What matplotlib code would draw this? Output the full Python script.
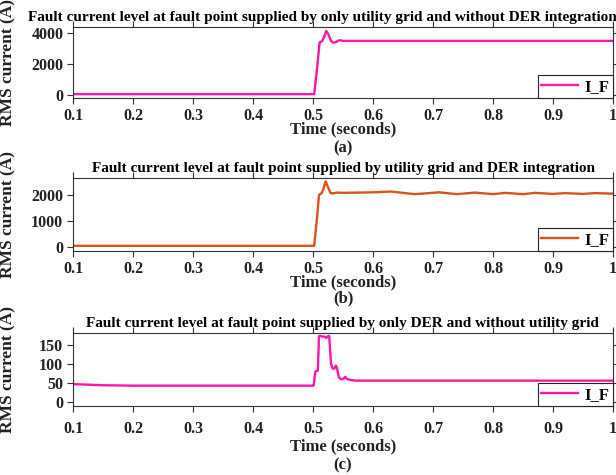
import numpy as np
import matplotlib
matplotlib.use('Agg')
import matplotlib.pyplot as plt

plt.rcParams['font.family'] = 'Liberation Serif'
plt.rcParams['font.weight'] = 'bold'

# (a) only utility grid
t_a = [0.1, 0.5, 0.502, 0.507, 0.511, 0.515, 0.518, 0.522, 0.526, 0.530,
       0.534, 0.538, 0.542, 0.546, 0.55, 1.0]
i_a = [50, 50, 50, 1800, 3400, 3480, 3700, 4150, 3900, 3500,
       3380, 3420, 3520, 3540, 3500, 3500]

# (b) utility grid + DER
t_b = [0.1, 0.5, 0.502, 0.507, 0.510, 0.514, 0.517, 0.521, 0.525, 0.529,
       0.533, 0.54, 0.55, 0.6, 0.63, 0.67, 0.71, 0.74, 0.77, 0.8,
       0.82, 0.85, 0.87, 0.9, 0.92, 0.95, 0.97, 1.0]
i_b = [50, 50, 50, 1200, 2000, 2060, 2200, 2520, 2300, 2080,
       2060, 2090, 2080, 2100, 2130, 2030, 2100, 2030, 2090, 2030,
       2080, 2030, 2080, 2040, 2070, 2040, 2070, 2050]

# (c) only DER
t_c = [0.1, 0.15, 0.2, 0.5, 0.501, 0.504, 0.508, 0.510, 0.512, 0.52,
       0.522, 0.525, 0.527, 0.530, 0.533, 0.536, 0.538, 0.540, 0.543, 0.546,
       0.550, 0.554, 0.557, 0.562, 0.57, 1.0]
i_c = [47, 44, 43, 43, 43, 80, 82, 172, 172, 170,
       167, 172, 172, 100, 87, 88, 95, 90, 65, 60,
       60, 66, 60, 58, 56, 56]

titles = ['Fault current level at fault point supplied by only utility grid and without DER integration',
          'Fault current level at fault point supplied by utility grid and DER integration',
          'Fault current level at fault point supplied by only DER and without utility grid']
letters = ['(a)', '(b)', '(c)']
xticks = [0.1, 0.2, 0.3, 0.4, 0.5, 0.6, 0.7, 0.8, 0.9, 1.0]
xticklabels = ['0.1', '0.2', '0.3', '0.4', '0.5', '0.6', '0.7', '0.8', '0.9', '1']
yticks = [[0, 2000, 4000], [0, 1000, 2000], [0, 50, 100, 150]]
ylims = [(-200, 4400), (-150, 2650), (-10, 180)]
colors = ['#ff17a6', '#d95319', '#ff17a6']
series = [(t_a, i_a), (t_b, i_b), (t_c, i_c)]

W, H = 616, 475
fig = plt.figure(figsize=(W / 100, H / 100), dpi=100)

# axes boxes in pixels: left, top, right, bottom
boxes = [(73, 27, 613, 98), (73, 178, 613, 251), (73, 333, 613, 406)]
title_x = [322, 344, 342]
tick_pad = [3, 3, 7]
xlab_pad = [-2, -2, 1]
letter_y = [148, 298, 465]
frame = '0.2'

for k in range(3):
    l, t, r, b = boxes[k]
    ax = fig.add_axes([l / W, 1 - b / H, (r - l) / W, (b - t) / H])
    x, y = series[k]
    ax.plot(x, y, color=colors[k], lw=1.7, label='I_F')
    ax.set_xlim(0.1, 1.0)
    ax.set_ylim(*ylims[k])
    ax.set_xticks(xticks)
    ax.set_xticklabels(xticklabels)
    ax.set_yticks(yticks[k])
    ax.tick_params(direction='out', length=4, width=0.8, labelsize=11.5,
                   colors=frame, labelcolor='#222222', top=True, right=True, pad=3)
    ax.tick_params(axis='x', pad=tick_pad[k])
    for s in ax.spines.values():
        s.set_color(frame)
        s.set_linewidth(0.8)
    ax.set_title(titles[k], fontsize=11, fontweight='bold', pad=4)
    ax.title.set_x((title_x[k] - l) / (r - l))
    ax.set_xlabel('Time (seconds)', fontsize=12, fontweight='bold',
                  labelpad=xlab_pad[k], color='#222222')
    ax.set_ylabel('RMS current (A)', fontsize=12.5, fontweight='bold', color='#222222')
    ax.yaxis.set_label_coords(-0.105, 0.5)
    fig.text(0.5 * (l + r) / W, 1 - letter_y[k] / H, letters[k], ha='center', va='center',
             fontsize=12, fontweight='bold', color='#222222')
    leg = ax.legend(loc='lower right', borderaxespad=0, fancybox=False,
                    framealpha=1, fontsize=12, handlelength=2.2, borderpad=0.2,
                    handletextpad=0.4)
    leg.get_frame().set_edgecolor('0.15')
    leg.get_frame().set_linewidth(0.8)

fig.savefig('out.png', dpi=100)
